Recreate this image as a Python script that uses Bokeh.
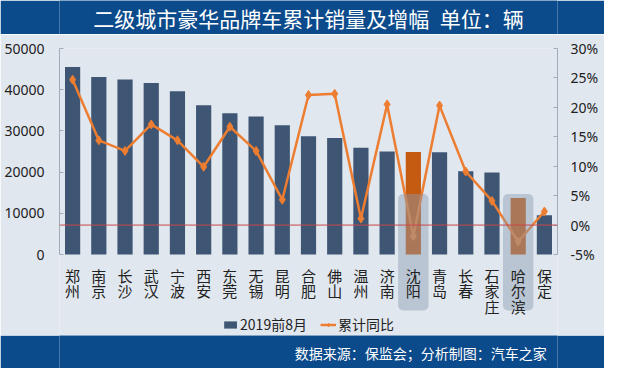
from bokeh.plotting import figure
from bokeh.models import (Range1d, LinearAxis, FixedTicker, PrintfTickFormatter, Span,
                          Legend, LegendItem, ColumnDataSource, FactorRange)
from bokeh.layouts import column
from bokeh.core.properties import value
from bokeh.embed import file_html
from bokeh.resources import INLINE

# ---------------- data ----------------
cities = ["郑州", "南京", "长沙", "武汉", "宁波", "西安", "东莞", "无锡", "昆明", "合肥",
          "佛山", "温州", "济南", "沈阳", "青岛", "长春", "石家庄", "哈尔滨", "保定"]
sales = [45500, 43100, 42500, 41600, 39600, 36200, 34300, 33500, 31400, 28700,
         28300, 25900, 25000, 24900, 24800, 20200, 19900, 13700, 9500]
growth = [24.7, 14.4, 12.6, 17.1, 14.4, 9.9, 16.7, 12.6, 4.3, 22.1,
          22.3, 1.1, 20.5, -1.9, 20.3, 9.1, 4.1, -2.8, 2.3]
highlight = ["沈阳", "哈尔滨"]
left_ticks = [0, 10000, 20000, 30000, 40000, 50000]
right_ticks = [-5, 0, 5, 10, 15, 20, 25, 30]
series_names = ["2019前8月", "累计同比"]
title_text = "二级城市豪华品牌车累计销量及增幅\u2002单位：辆"
source_text = "数据来源：保监会；分析制图：汽车之家"

# ---------------- style ----------------
W = 604
DARK = "#0b4a8b"
BG = "#e1e7ee"
BAR = "#3e5674"
BAR_HI = "#c55a11"
ORANGE = "#ed7d31"
AX = "#a3abb4"
CJK = "Noto Sans CJK SC"

TITLE_H, MAIN_H, FOOT_H = 34, 301, 33
FRAME_TOP, FRAME_H, ZERO_PX = 14, 287, 206


def band(h, text, x, y, align, size):
    f = figure(width=W, height=h, x_range=Range1d(0, W), y_range=Range1d(0, h),
               output_backend="svg", toolbar_location=None, min_border=0,
               x_axis_location=None, y_axis_location=None,
               background_fill_color=DARK, border_fill_color=DARK, outline_line_color=None)
    f.grid.visible = False
    f.text(x=[x], y=[y], text=[text], text_color="white", text_font=value(CJK),
           text_font_size=size, text_align=align, text_baseline="middle")
    return f


title_fig = band(TITLE_H, title_text, W / 2, 16.8, "center", "21px")
foot_fig = band(FOOT_H, source_text, 591, 15.8, "right", "14px")

# ---------------- main chart ----------------
y_top = left_ticks[-1]
yr = Range1d(y_top - FRAME_H * y_top / ZERO_PX, y_top)
p_top, p_low = right_ticks[-1], right_ticks[0]
pr = Range1d(p_top - FRAME_H * (p_top - p_low) / ZERO_PX, p_top)

p = figure(width=W, height=MAIN_H, x_range=FactorRange(*cities), y_range=yr,
           output_backend="svg", toolbar_location=None,
           min_border_left=59, min_border_right=47, min_border_top=FRAME_TOP, min_border_bottom=0,
           x_axis_location=None, background_fill_color=BG, border_fill_color=BG,
           outline_line_color=None)
p.extra_y_ranges = {"pct": pr}
p.grid.visible = False

yax = p.yaxis[0]
yax.bounds = (left_ticks[0], left_ticks[-1])
yax.ticker = FixedTicker(ticks=left_ticks)

rax = LinearAxis(y_range_name="pct", bounds=(right_ticks[0], right_ticks[-1]),
                 ticker=FixedTicker(ticks=right_ticks),
                 formatter=PrintfTickFormatter(format="%d%%"))
p.add_layout(rax, "right")

for ax in (yax, rax):
    ax.axis_line_color = AX
    ax.major_tick_line_color = AX
    ax.minor_tick_line_color = None
    ax.major_tick_in = 4
    ax.major_tick_out = 0
    ax.major_label_text_font = "Noto Sans"
    ax.major_label_text_font_size = "14px"
    ax.major_label_text_color = "#222222"
yax.major_label_standoff = 15
rax.major_label_standoff = 13

src = ColumnDataSource(dict(
    city=cities, sales=sales, growth=growth,
    color=[BAR_HI if c in highlight else BAR for c in cities],
    zero=[0] * len(cities),
    label=["\n".join(c) for c in cities],
))

bars = p.vbar(x="city", top="sales", width=0.58, source=src, fill_color="color",
              line_color=None)

p.add_layout(Span(location=0, dimension="width", y_range_name="pct",
                  line_color="#c9484a", line_width=1))

ln = p.line(x="city", y="growth", source=src, y_range_name="pct",
            line_color=ORANGE, line_width=2.5)
mk = p.scatter(x="city", y="growth", source=src, y_range_name="pct", marker="diamond",
               size=9, fill_color=ORANGE, line_color=ORANGE)

# highlight boxes over the two selected cities
p.vbar(x=highlight, top=14700, bottom=-13600, width=1.16, fill_color="#8a9bb0",
       fill_alpha=0.45, line_color=None, border_radius=5)

# category labels (vertical, stacked characters)
p.text(x="city", y="zero", text="label", source=src, y_offset=10,
       text_font=value(CJK), text_font_size="15px", text_color="#222222",
       text_align="center", text_baseline="top", text_line_height=0.75)

legend = Legend(items=[LegendItem(label=series_names[0], renderers=[bars], index=0),
                       LegendItem(label=series_names[1], renderers=[ln, mk])],
                orientation="horizontal", location="bottom_center",
                background_fill_alpha=0, border_line_color=None,
                padding=0, margin=1, spacing=13, label_standoff=2,
                glyph_width=16, glyph_height=9,
                label_text_font=CJK, label_text_font_size="14px",
                label_text_color="#222222")
p.add_layout(legend)

layout = column(title_fig, p, foot_fig, spacing=0)
open("out.html", "w").write(file_html(layout, INLINE))
